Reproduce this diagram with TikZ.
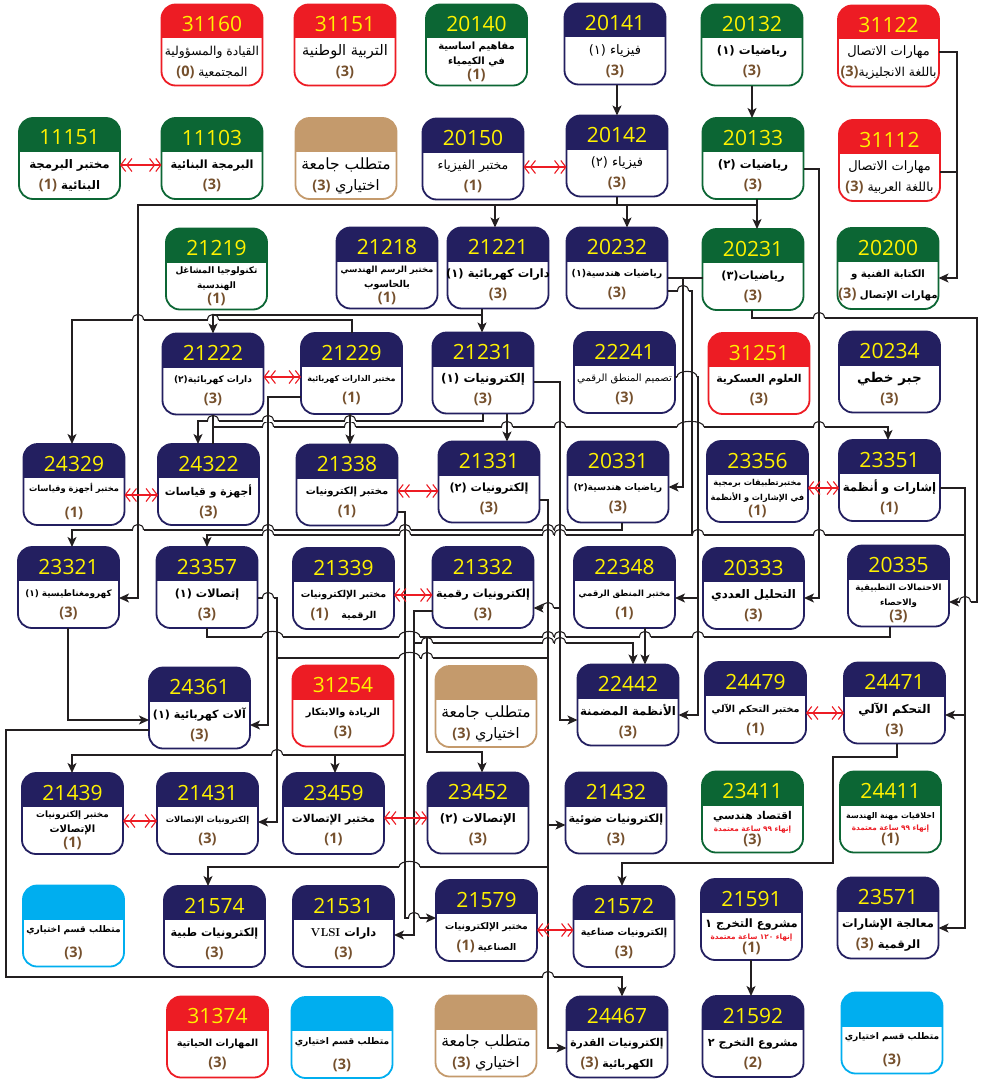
\documentclass[tikz,border=0pt]{standalone}
\usepackage{fontspec}
\usetikzlibrary{arrows.meta}
\TeXXeTstate=1
\newfontfamily\arabicfont[Script=Arabic]{DejaVu Sans}
\newfontfamily\codefont{Open Sans}
\definecolor{cnavy}{RGB}{35,31,96}
\definecolor{cgreen}{RGB}{12,102,52}
\definecolor{cred}{RGB}{237,28,36}
\definecolor{ctan}{RGB}{196,154,108}
\definecolor{ccyan}{RGB}{0,174,239}
\definecolor{cyel}{RGB}{255,242,0}
\definecolor{cbrown}{RGB}{117,80,45}
\definecolor{lc}{RGB}{35,31,32}
\newcommand{\txr}[2][12]{{\arabicfont\fontsize{#1}{#1}\selectfont\beginR #2\endR}}
\newcommand{\txb}[2][11]{{\arabicfont\bfseries\fontsize{#1}{#1}\selectfont\beginR #2\endR}}
\newcommand{\crd}[1]{{\codefont\bfseries\color{cbrown}\fontsize{14.5}{14.5}\selectfont(#1)}}
\newcommand{\crL}[1]{\beginL\crd{#1}\endL}
\newcommand{\reqt}[1]{{\arabicfont\bfseries\color{cred}\fontsize{7.3}{7.3}\selectfont\beginR #1\endR}}
\newcommand{\mkcourse}[7]{%
  \node[cbx] (#1) at (#2,#3) {};
  \begin{scope}
    \clip[rounded corners=14pt] (#1.north west) rectangle (#1.south east);
    \fill[#4] (#1.north west) rectangle ([yshift=-34pt]#1.north east);
  \end{scope}
  \draw[#4, line width=1.8pt, rounded corners=14pt] (#1.north west) rectangle (#1.south east);
  \node[codet] (#1-code) at ([yshift=21pt]#1.center) {#5};
  \node[#6] (#1-text) at ([yshift=-17pt]#1.center) {#7};
}
\newcommand{\hopm}[4]{%
  \fill[white] (#1,#3-1.4) rectangle (#2,#3+1.4);
  \foreach \vx in {#4} {\draw[ln] (\vx,#3-2.2) -- (\vx,#3+2.2);}
  \draw[ln] (#1,#3) .. controls (#1,#3-7.5) and (#2,#3-7.5) .. (#2,#3);
}
\newcommand{\hop}[2]{\hopm{#1-5.5}{#1+5.5}{#2}{#1}}
\tikzset{
 cbx/.style={minimum width=101pt, minimum height=81pt, inner sep=0pt, outer sep=0pt},
 codet/.style={font=\codefont\fontsize{21}{21}\selectfont, text=cyel, inner sep=0pt},
 btwo/.style={align=center, inner sep=0pt, font=\fontsize{10}{21}\selectfont},
 bthree/.style={align=center, inner sep=0pt, font=\fontsize{9}{15}\selectfont},
 bthreeT/.style={align=center, inner sep=0pt, font=\fontsize{9}{12}\selectfont},
 ln/.style={draw=lc, line width=1.1pt},
 arr/.style={ln, -{Stealth[length=10pt,width=9pt,inset=2.5pt]}},
 rarr/.style={draw=cred, line width=1.1pt, {Straight Barb[length=5pt,width=13pt]Straight Barb[length=5pt,width=13pt]}-{Straight Barb[length=5pt,width=13pt]Straight Barb[length=5pt,width=13pt]}},
}
\begin{document}
\begin{tikzpicture}[x=1pt,y=-1pt]
\fill[white] (0,0) rectangle (987,1081);
\useasboundingbox (0,0) rectangle (987,1081);

% Row 1
\mkcourse{n31160}{212}{45}{cred}{31160}{btwo}{\txr[12.3]{القيادة والمسؤولية}\\\txr[12.3]{المجتمعية \crL{0}}}
\mkcourse{n31151}{345}{45}{cred}{31151}{btwo}{\txr[14.5]{التربية الوطنية}\\\crd{3}}
\mkcourse{n20140}{476.5}{45}{cgreen}{20140}{bthree}{\txb[10]{مفاهيم اساسية}\\\txb[10]{في الكيمياء}\\\crd{1}}
\mkcourse{n20141}{615}{44}{cnavy}{20141}{btwo}{\txr[13]{فيزياء (١)}\\\crd{3}}
\mkcourse{n20132}{752}{45}{cgreen}{20132}{btwo}{\txb[11.8]{رياضيات (١)}\\\crd{3}}
\mkcourse{n31122}{888.5}{46}{cred}{31122}{btwo}{\txr[13]{مهارات الاتصال}\\\txr[12.3]{باللغة الانجليزية\crL{3}}}
% Row 2
\mkcourse{n11151}{69.5}{158.5}{cgreen}{11151}{btwo}{\txb[11.8]{مختبر البرمجة}\\\txb[11.8]{البنائية \crL{1}}}
\mkcourse{n11103}{212}{158.5}{cgreen}{11103}{btwo}{\txb[11.3]{البرمجة البنائية}\\\crd{3}}
\mkcourse{ntanA}{346}{158.5}{ctan}{}{btwo}{\txr[15.5]{متطلب جامعة}\\\txr[14.5]{اختياري \crL{3}}}
\mkcourse{n20150}{473}{159}{cnavy}{20150}{btwo}{\txr[12.5]{مختبر الفيزياء}\\\crd{1}}
\mkcourse{n20142}{617}{156}{cnavy}{20142}{btwo}{\txr[13]{فيزياء (٢)}\\\crd{3}}
\mkcourse{n20133}{753}{158.5}{cgreen}{20133}{btwo}{\txb[11.8]{رياضيات (٢)}\\\crd{3}}
\mkcourse{n31112}{889.5}{160.5}{cred}{31112}{btwo}{\txr[13]{مهارات الاتصال}\\\txr[12.5]{باللغة العربية \crL{3}}}
% Row 3
\mkcourse{n21219}{216.5}{269}{cgreen}{21219}{bthree}{\txb[8.9]{تكنولوجيا المشاغل}\\\txb[8.9]{الهندسية}\\\crd{1}}
\mkcourse{n21218}{387}{268}{cnavy}{21218}{bthree}{\txb[8.5]{مختبر الرسم الهندسي}\\\txb[9.5]{بالحاسوب}\\\crd{1}}
\mkcourse{n21221}{498}{268}{cnavy}{21221}{btwo}{\txb[11.5]{دارات كهربائية (١)}\\\crd{3}}
\mkcourse{n20232}{617}{268}{cnavy}{20232}{btwo}{\txb[9.4]{رياضيات هندسية(١)}\\\crd{3}}
\mkcourse{n20231}{753}{269.5}{cgreen}{20231}{btwo}{\txb[11.3]{رياضيات(٣)}\\\crd{3}}
\mkcourse{n20200}{888}{268.5}{cgreen}{20200}{btwo}{\txb[10.2]{الكتابة الفنية و}\\\txb[10.2]{مهارات الإتصال \crL{3}}}
% Row 4
\mkcourse{n21222}{213}{374}{cnavy}{21222}{btwo}{\txb[9]{دارات كهربائية(٢)}\\\crd{3}}
\mkcourse{n21229}{351.5}{373.5}{cnavy}{21229}{btwo}{\txb[8]{مختبر الدارات كهربائية}\\\crd{1}}
\mkcourse{n21231}{483}{373}{cnavy}{21231}{btwo}{\txb[12]{إلكترونيات (١)}\\\crd{3}}
\mkcourse{n22241}{624.5}{372.5}{cnavy}{22241}{btwo}{\txr[10]{تصميم المنطق الرقمي}\\\crd{3}}
\mkcourse{n31251}{759}{373.5}{cred}{31251}{btwo}{\txb[10.8]{العلوم العسكرية}\\\crd{3}}
\mkcourse{n20234}{889.5}{372}{cnavy}{20234}{btwo}{\txb[13.5]{جبر خطي}\\\crd{3}}
% Row 5
\mkcourse{n24329}{74}{484.5}{cnavy}{24329}{btwo}{\txb[8.3]{مختبر أجهزة وقياسات}\\[5pt]\crd{1}}
\mkcourse{n24322}{208.5}{484.5}{cnavy}{24322}{btwo}{\txb[10.8]{أجهزة و قياسات}\\\crd{3}}
\mkcourse{n21338}{347}{485}{cnavy}{21338}{btwo}{\txb[10]{مختبر إلكترونيات}\\\crd{1}}
\mkcourse{n21331}{489}{482}{cnavy}{21331}{btwo}{\txb[11.3]{إلكترونيات (٢)}\\\crd{3}}
\mkcourse{n20331}{618}{482}{cnavy}{20331}{btwo}{\txb[9.2]{رياضيات هندسية(٢)}\\\crd{3}}
\mkcourse{n23356}{757.5}{481.5}{cnavy}{23356}{bthree}{\txb[8.2]{مختبرتطبيقات برمجية}\\\txb[8.2]{في الإشارات و الأنظمة}\\\crd{1}}
\mkcourse{n23351}{889.5}{480.5}{cnavy}{23351}{btwo}{\txb[11.8]{إشارات و أنظمة}\\\crd{1}}
% Row 6
\mkcourse{n23321}{68.5}{587.5}{cnavy}{23321}{btwo}{\txb[8.9]{كهرومغناطيسية (١)}\\\crd{3}}
\mkcourse{n23357}{207}{587.5}{cnavy}{23357}{btwo}{\txb[11.3]{إتصالات (١)}\\\crd{3}}
\mkcourse{n21339}{343.5}{588.5}{cnavy}{21339}{btwo}{\txb[9.5]{مختبر الإلكترونيات}\\\txb[9.5]{الرقمية \quad\crL{1}}}
\mkcourse{n21332}{483}{587.5}{cnavy}{21332}{btwo}{\txb[11.2]{إلكترونيات رقمية}\\\crd{3}}
\mkcourse{n22348}{624.5}{587.5}{cnavy}{22348}{btwo}{\txb[8.5]{مختبر المنطق الرقمي}\\\crd{1}}
\mkcourse{n20333}{753.5}{588.5}{cnavy}{20333}{btwo}{\txb[11.8]{التحليل العددي}\\\crd{3}}
\mkcourse{n20335}{898.5}{586}{cnavy}{20335}{bthree}{\txb[8.6]{الاحتمالات التطبيقية}\\\txb[8.6]{والاحصاء}\\\crd{3}}
% Row 7
\mkcourse{n24361}{199.5}{708}{cnavy}{24361}{btwo}{\txb[11.2]{آلات كهربائية (١)}\\\crd{3}}
\mkcourse{n31254}{343}{706}{cred}{31254}{btwo}{\txb[9.8]{الريادة والابتكار}\\\crd{3}}
\mkcourse{ntanB}{486}{706.5}{ctan}{}{btwo}{\txr[15.5]{متطلب جامعة}\\\txr[14.5]{اختياري \crL{3}}}
\mkcourse{n22442}{628}{705}{cnavy}{22442}{btwo}{\txb[11.8]{الأنظمة المضمنة}\\\crd{3}}
\mkcourse{n24479}{755.5}{702.5}{cnavy}{24479}{btwo}{\txb[9.6]{مختبر التحكم الآلي}\\\crd{1}}
\mkcourse{n24471}{894.5}{703}{cnavy}{24471}{btwo}{\txb[12]{التحكم الآلي}\\\crd{3}}
% Row 8
\mkcourse{n21439}{72.5}{813.5}{cnavy}{21439}{bthree}{\txb[8.8]{مختبر إلكترونيات}\\\txb[10]{الإتصالات}\\\crd{1}}
\mkcourse{n21431}{207.5}{813.5}{cnavy}{21431}{btwo}{\txb[8.3]{إلكترونيات الإتصالات}\\\crd{3}}
\mkcourse{n23459}{333.5}{813.5}{cnavy}{23459}{btwo}{\txb[10.8]{مختبر الإتصالات}\\\crd{1}}
\mkcourse{n23452}{478}{813}{cnavy}{23452}{btwo}{\txb[11.8]{الإتصالات (٢)}\\\crd{3}}
\mkcourse{n21432}{616}{813}{cnavy}{21432}{btwo}{\txb[11.2]{إلكترونيات ضوئية}\\\crd{3}}
\mkcourse{n23411}{752.5}{812}{cgreen}{23411}{bthreeT}{\txb[10.8]{اقتصاد هندسي}\\\reqt{إنهاء ٩٩ ساعة معتمدة}\\\crd{3}}
\mkcourse{n24411}{890.5}{812}{cgreen}{24411}{bthreeT}{\txb[7.9]{اخلاقيات مهنة الهندسة}\\\reqt{إنهاء ٩٩ ساعة معتمدة}\\\crd{1}}
% Row 9
\mkcourse{ncyanA}{73.5}{926}{ccyan}{}{btwo}{\txb[9.1]{متطلب قسم اختياري}\\[4pt]\crd{3}}
\mkcourse{n21574}{214.5}{926.5}{cnavy}{21574}{btwo}{\txb[11.2]{إلكترونيات طبية}\\\crd{3}}
\mkcourse{n21531}{343.5}{926.5}{cnavy}{21531}{btwo}{\txb[11.5]{دارات \beginL{\rmfamily\bfseries VLSI}\endL}\\\crd{3}}
\mkcourse{n21579}{486.5}{920.5}{cnavy}{21579}{btwo}{\txb[9.2]{مختبر الإلكترونيات}\\\txb[9.2]{الصناعية \crL{1}}}
\mkcourse{n21572}{624}{926.5}{cnavy}{21572}{btwo}{\txb[9.7]{إلكترونيات صناعية}\\\crd{3}}
\mkcourse{n21591}{751.5}{919.5}{cnavy}{21591}{bthreeT}{\txb[11.5]{مشروع التخرج ١}\\\reqt{إنهاء ١٢٠ ساعة معتمدة}\\\crd{1}}
\mkcourse{n23571}{888}{918}{cnavy}{23571}{btwo}{\txb[11.5]{معالجة الإشارات}\\\txb[11.5]{الرقمية \crL{3}}}
% Row 10
\mkcourse{n31374}{217.5}{1037}{cred}{31374}{btwo}{\txb[9.8]{المهارات الحياتية}\\\crd{3}}
\mkcourse{ncyanB}{342}{1037.5}{ccyan}{}{btwo}{\txb[9.1]{متطلب قسم اختياري}\\[4pt]\crd{3}}
\mkcourse{ntanC}{486}{1036}{ctan}{}{btwo}{\txr[15.5]{متطلب جامعة}\\\txr[14.5]{اختياري \crL{3}}}
\mkcourse{n24467}{617}{1037}{cnavy}{24467}{btwo}{\txb[10.8]{إلكترونيات القدرة}\\\txb[10.8]{الكهربائية \crL{3}}}
\mkcourse{n21592}{753}{1036.5}{cnavy}{21592}{btwo}{\txb[11.2]{مشروع التخرج ٢}\\\crd{2}}
\mkcourse{ncyanC}{892}{1033}{ccyan}{}{btwo}{\txb[9.1]{متطلب قسم اختياري}\\[4pt]\crd{3}}

% junction coordinates
\coordinate (jA) at (957,172);
\coordinate (jB) at (757,205);
\coordinate (jC) at (427,637);
\coordinate (jD) at (692,535);
\coordinate (jE) at (277,658);

% black connectors
\draw[arr] (n20141.south -| 617,0) -- (n20142.north -| 617,0);
\draw[arr] (n20132.south -| 752,0) -- (n20133.north -| 752,0);
\draw[arr] (n31122.east |- 0,52) -| (957,278) -- (n20200.east |- 0,278);
\draw[ln] (n31112.east |- 0,172) -- (jA);
\draw[arr] (n20142.south -| 617,0) |- (495,205) -- (n21221.north -| 495,0);
\draw[arr] (n20142.south -| 617,0) |- (627,205) -- (n20232.north -| 627,0);
\draw[arr] (n20142.south -| 617,0) |- (138,205) |- (n23321.east |- 0,598);
\draw[ln] (n20142.south -| 617,0) |- (jB);
\draw[arr] (n20133.south -| 757,0) -- (n20231.north -| 757,0);
\draw[arr] (n20133.east |- 0,169) -| (819,598) -- (n20333.east |- 0,598);
\draw[arr] (n20231.south -| 752,0) |- (977,318) |- (n20335.east |- 0,602);
\draw[arr] (n21221.south -| 482,0) -- (n21231.north -| 482,0);
\draw[arr] (n21221.south -| 482,0) |- (213,315) -- (n21222.north -| 213,0);
\draw[arr] (n21229.north -| 352,0) |- (72,320) -- (n24329.north -| 72,0);
\draw[arr] (n21222.south -| 213,0) |- (888,427) -- (n23351.north -| 888,0);
\draw[ln] (n21222.south -| 213,0) -- (n24322.north -| 213,0);
\draw[arr] (n21231.south -| 483,0) |- (198,421) -- (n24322.north -| 198,0);
\draw[arr] (n21229.south -| 350,0) -- (n21338.north -| 350,0);
\draw[arr] (n21231.south -| 507,0) -- (n21331.north -| 507,0);
\draw[arr] (n21231.east |- 0,382) -| (560,608) -- (n21332.east |- 0,608);
\draw[arr] (n21231.east |- 0,382) -| (560,720) -- (n22442.west |- 0,720);
\draw[arr] (n21331.east |- 0,500) -| (548,1048) -- (n24467.west |- 0,1048);
\draw[arr] (n21331.east |- 0,500) -| (548,825) -- (n21432.west |- 0,825);
\draw[arr] (n21331.east |- 0,500) -| (548,867) -| (n21574.north -| 208,0);
\draw[arr] (n21331.east |- 0,500) -| (548,658) -| (277,822) -- (n21431.east |- 0,822);
\draw[arr] (n20331.south -| 622,0) |- (72,530) -- (n23321.north -| 72,0);
\draw[arr] (n23351.east |- 0,488) -| (965,535) -| (n23357.north -| 207,0);
\draw[arr] (n23351.east |- 0,488) -| (965,715) -- (n24471.east |- 0,715);
\draw[arr] (n23351.east |- 0,488) -| (965,928) -- (n23571.east |- 0,928);
\draw[arr] (n21229.west |- 0,397) -| (268,725) -- (n24361.east |- 0,725);
\draw[ln] (n23357.east |- 0,598) -| (jE);
\draw[arr] (n23321.south -| 68,0) |- (n24361.west |- 0,720);
\draw[arr] (n24361.west |- 0,730) -| (6,977) -| (n24467.north -| 622,0);
\draw[arr] (n23357.south -| 207,0) |- (427,637) |- (482,752) -- (n23452.north -| 482,0);
\draw[ln] (n20335.south -| 890,0) |- (jC);
\draw[arr] (n21332.west |- 0,611) -| (414,643) -| (n22442.north -| 633,0);
\draw[arr] (n21332.west |- 0,611) -| (414,935) -- (n21531.east |- 0,935);
\draw[arr] (n22348.south -| 645,0) -- (n22442.north -| 645,0);
\draw[arr] (n21338.east |- 0,512) -| (405,918) -- (n21579.west |- 0,918);
\draw[arr] (n21338.east |- 0,512) -| (405,755) -| (n23459.north -| 335,0);
\draw[arr] (n21338.east |- 0,512) -| (405,755) -| (n21439.north -| 72,0);
\draw[arr] (n22241.east |- 0,377) -| (698,598) -- (n22348.east |- 0,598);
\draw[arr] (n22241.east |- 0,377) -| (698,715) -- (n22442.east |- 0,715);
\draw[arr] (n20232.east |- 0,278) -| (683,487) -- (n20331.east |- 0,487);
\draw[ln] (n20231.west |- 0,278) -- (n20232.east |- 0,278);
\draw[ln] (n20232.east |- 0,291) -| (jD);
\draw[arr] (n24471.south -| 897,0) |- (833,757) |- (622,863) -- (n21572.north -| 622,0);
\draw[arr] (n21591.south -| 751,0) -- (n21592.north -| 751,0);

% line hops
\hop{819}{318}
\hop{965}{602}
\hop{138}{320}\hop{213}{320}
\hop{268}{427}\hop{350}{427}\hop{507}{427}\hop{560}{427}\hopm{677}{704}{427}{683,692,698}\hop{819}{427}
\hop{213}{421}\hop{268}{421}\hop{350}{421}
\hop{548}{608}
\hopm{399}{420}{867}{405,414}
\hopm{399}{420}{658}{405,414}\hop{427}{658}
\hop{138}{530}\hop{268}{530}\hop{405}{530}\hop{548}{530}\hop{560}{530}
\hop{268}{535}\hop{405}{535}\hop{548}{535}\hop{560}{535}\hop{698}{535}\hop{819}{535}
\hop{268}{598}
\hop{548}{977}
\hopm{262}{283}{637}{268,277}\hopm{399}{420}{637}{405,414}\hop{548}{637}\hop{560}{637}\hop{645}{637}\hop{698}{637}
\hop{427}{643}\hop{548}{643}\hop{560}{643}
\hop{414}{918}
\hop{277}{755}
\hopm{677}{697}{377}{683,692}
\hop{683}{291}

% red co-requisite arrows
\draw[rarr] (n11151.east |- 0,165) -- (n11103.west |- 0,165);
\draw[rarr] (n20150.east |- 0,167) -- (n20142.west |- 0,167);
\draw[rarr] (n21222.east |- 0,377) -- (n21229.west |- 0,377);
\draw[rarr] (n24329.east |- 0,495) -- (n24322.west |- 0,495);
\draw[rarr] (n21338.east |- 0,491) -- (n21331.west |- 0,491);
\draw[rarr] (n23356.east |- 0,488) -- (n23351.west |- 0,488);
\draw[rarr] (n21339.east |- 0,595) -- (n21332.west |- 0,595);
\draw[rarr] (n24479.east |- 0,713) -- (n24471.west |- 0,713);
\draw[rarr] (n21439.east |- 0,821) -- (n21431.west |- 0,821);
\draw[rarr] (n23459.east |- 0,818) -- (n23452.west |- 0,818);
\draw[rarr] (n21579.east |- 0,930) -- (n21572.west |- 0,930);
\end{tikzpicture}
\end{document}
